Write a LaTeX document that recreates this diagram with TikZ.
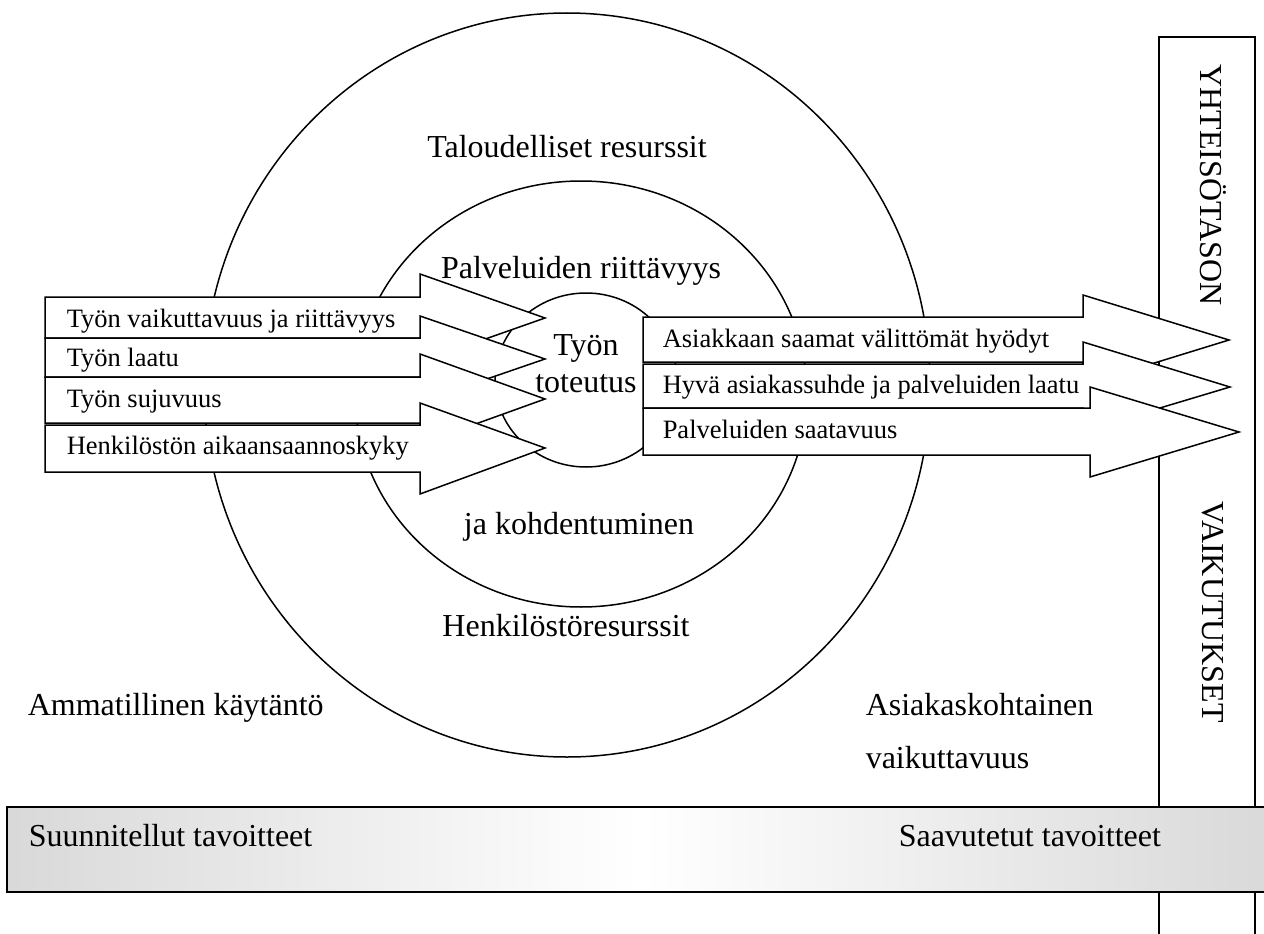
\documentclass[tikz,border=0pt]{standalone}
\usepackage{fontspec}
\setmainfont{Liberation Serif}
\begin{document}
\begin{tikzpicture}[x=1pt,y=-1pt,line width=1.5pt,
  big/.style={font=\fontsize{32}{37}\selectfont, inner sep=0pt, anchor=base},
  label/.style={font=\fontsize{32}{37}\selectfont, inner sep=0pt, anchor=base west},
  small/.style={font=\fontsize{26.5}{30}\selectfont, inner sep=0pt, anchor=base west},
  fatarrow/.style={draw, fill=white, line join=miter}]
\useasboundingbox (0,0) rectangle (1264,934);
\draw (1159,37) rectangle (1255,945);
\node[big, anchor=center, rotate=-90] (yhteiso) at (1213,185) {YHTEISÖTASON};
\node[big, anchor=center, rotate=-90] (vaikutukset) at (1213,612) {VAIKUTUKSET};
\draw (567,385) ellipse [x radius=363pt, y radius=372pt];
\draw (581,394) ellipse [x radius=226pt, y radius=213pt];
\draw (586,380) ellipse [x radius=91pt, y radius=87pt];
\node[big] (talous) at (567,157) {Taloudelliset resurssit};
\node[big] (henkilosto) at (566,636) {Henkilöstöresurssit};
\node[big] (kohdentuminen) at (579,534) {ja kohdentuminen};
\draw[fatarrow] (45,297) -- (420,297) -- (420,274) -- (545,318) -- (420,362) -- (420,338) -- (45,338) -- cycle;
\draw[fatarrow] (45,338) -- (420,338) -- (420,316) -- (545,359) -- (420,402) -- (420,377) -- (45,377) -- cycle;
\draw[fatarrow] (45,377) -- (420,377) -- (420,354) -- (545,399) -- (420,444) -- (420,423) -- (45,423) -- cycle;
\draw[fatarrow] (45,425) -- (420,425) -- (420,403) -- (545,448) -- (420,494) -- (420,472) -- (45,472) -- cycle;
\node[small] (vaikuttavuus) at (66,327) {Työn vaikuttavuus ja riittävyys};
\node[small] (laatu) at (66,366) {Työn laatu};
\node[small] (sujuvuus) at (66,407) {Työn sujuvuus};
\node[small] (aikaansaannos) at (66,454) {Henkilöstön aikaansaannoskyky};
\draw[fatarrow] (643,317) -- (1083,317) -- (1083,295) -- (1229,340) -- (1083,385) -- (1083,362) -- (643,362) -- cycle;
\draw[fatarrow] (643,364) -- (1083,364) -- (1083,342) -- (1230,387) -- (1083,431) -- (1083,408) -- (643,408) -- cycle;
\draw[fatarrow] (643,408) -- (1090,408) -- (1090,387) -- (1239,432) -- (1090,477) -- (1090,455) -- (643,455) -- cycle;
\node[small] (hyodyt) at (662,347) {Asiakkaan saamat välittömät hyödyt};
\node[small] (asiakassuhde) at (662,393) {Hyvä asiakassuhde ja palveluiden laatu};
\node[small] (saatavuus) at (662,438) {Palveluiden saatavuus};
\node[big] (riittavyys) at (581,278) {Palveluiden riittävyys};
\node[big] (tyon) at (586,355) {Työn};
\node[big] (toteutus) at (586,392) {toteutus};
\node[label] (kaytanto) at (27,715) {Ammatillinen käytäntö};
\node[label] (asiakaskoht) at (865,715) {Asiakaskohtainen};
\node[label] (vaikutt) at (865,768) {vaikuttavuus};
\draw[left color=black!15, right color=black!15, middle color=white] (7,807) rectangle (1275,892);
\node[label] (suunnitellut) at (28,846) {Suunnitellut tavoitteet};
\node[label] (saavutetut) at (898,846) {Saavutetut tavoitteet};
\end{tikzpicture}
\end{document}
